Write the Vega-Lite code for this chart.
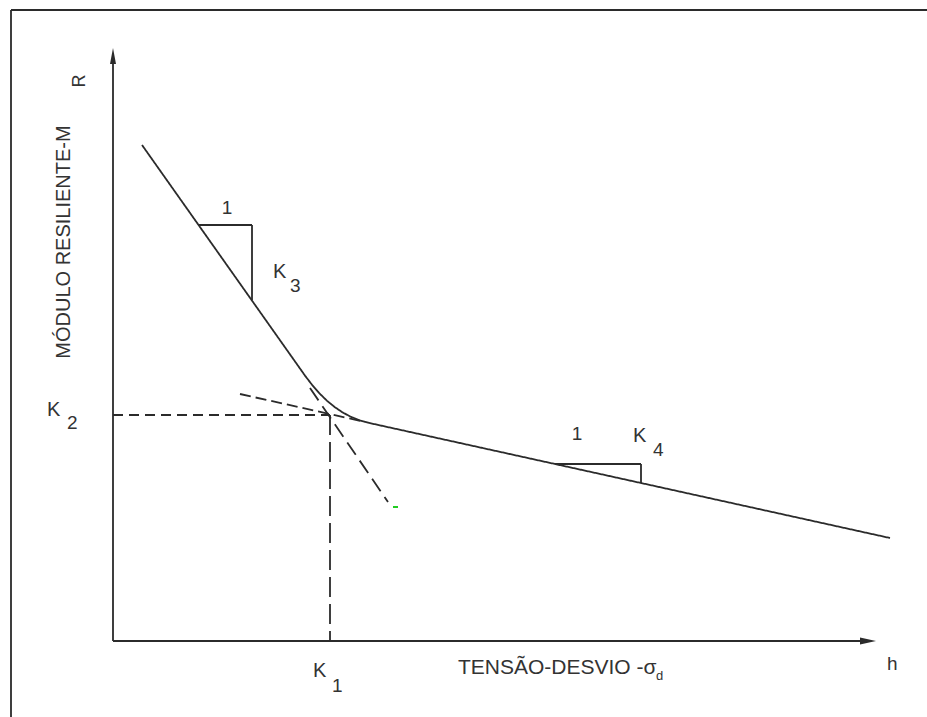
{
  "$schema": "https://vega.github.io/schema/vega-lite/v6.json",
  "width": 927,
  "height": 717,
  "padding": 0,
  "autosize": {"type": "none"},
  "background": "white",
  "config": {"view": {"stroke": null}, "text": {"font": "Liberation Sans", "color": "#333333"}},
  "datasets": {
    "lines": [
      {"s": "border", "o": 0, "st": "solid", "x": -102, "y": -80},
      {"s": "border", "o": 1, "st": "solid", "x": -102, "y": 631},
      {"s": "border", "o": 2, "st": "solid", "x": 820, "y": 631},
      {"s": "yaxis", "o": 0, "st": "solid", "x": 0, "y": 0},
      {"s": "yaxis", "o": 1, "st": "solid", "x": 0, "y": 585},
      {"s": "xaxis", "o": 0, "st": "solid", "x": 0, "y": 0},
      {"s": "xaxis", "o": 1, "st": "solid", "x": 755, "y": 0},
      {"s": "main", "o": 0, "st": "solid", "x": 29, "y": 496},
      {"s": "main", "o": 1, "st": "solid", "x": 192, "y": 265.4},
      {"s": "main", "o": 2, "st": "solid", "x": 199.1, "y": 256.1},
      {"s": "main", "o": 3, "st": "solid", "x": 206.3, "y": 247.8},
      {"s": "main", "o": 4, "st": "solid", "x": 213.8, "y": 240.4},
      {"s": "main", "o": 5, "st": "solid", "x": 221.6, "y": 234.0},
      {"s": "main", "o": 6, "st": "solid", "x": 229.6, "y": 228.6},
      {"s": "main", "o": 7, "st": "solid", "x": 237.8, "y": 224.2},
      {"s": "main", "o": 8, "st": "solid", "x": 246.3, "y": 220.8},
      {"s": "main", "o": 9, "st": "solid", "x": 255, "y": 218.3},
      {"s": "main", "o": 10, "st": "solid", "x": 777, "y": 103},
      {"s": "tri3", "o": 0, "st": "solid", "x": 86, "y": 416},
      {"s": "tri3", "o": 1, "st": "solid", "x": 139, "y": 416},
      {"s": "tri3", "o": 2, "st": "solid", "x": 139, "y": 341},
      {"s": "tri4", "o": 0, "st": "solid", "x": 442, "y": 177},
      {"s": "tri4", "o": 1, "st": "solid", "x": 528, "y": 177},
      {"s": "tri4", "o": 2, "st": "solid", "x": 528, "y": 158},
      {"s": "k2", "o": 0, "st": "dashK", "x": 0, "y": 226},
      {"s": "k2", "o": 1, "st": "dashK", "x": 217, "y": 226},
      {"s": "k1", "o": 0, "st": "dashV", "x": 217, "y": 226},
      {"s": "k1", "o": 1, "st": "dashV", "x": 217, "y": 0},
      {"s": "ext1", "o": 0, "st": "dashE1", "x": 197, "y": 253},
      {"s": "ext1", "o": 1, "st": "dashE1", "x": 275, "y": 139},
      {"s": "ext2", "o": 0, "st": "dashE2", "x": 127, "y": 247},
      {"s": "ext2", "o": 1, "st": "dashE2", "x": 252, "y": 219}
    ],
    "arrows": [
      {"dir": "up", "x": 0, "y": 585},
      {"dir": "right", "x": 755, "y": 0}
    ],
    "green": [{"x": 280, "x2": 285, "y": 134}],
    "labels": [
      {"t": "K", "x": -66, "y": 225},
      {"t": "K", "x": 200, "y": -36},
      {"t": "K", "x": 160, "y": 363},
      {"t": "K", "x": 520, "y": 199}
    ],
    "axlab": [{"t": "TENSÃO-DESVIO -σ", "x": 345, "y": -33}],
    "digits": [
      {"t": "2", "x": -46, "y": 212},
      {"t": "1", "x": 219, "y": -51},
      {"t": "3", "x": 177, "y": 349},
      {"t": "4", "x": 540, "y": 185},
      {"t": "h", "x": 774, "y": -29}
    ],
    "ones": [
      {"t": "1", "x": 114, "y": 427},
      {"t": "1", "x": 464, "y": 201}
    ],
    "subd": [{"t": "d", "x": 543, "y": -39}],
    "ylab": [{"t": "MÓDULO RESILIENTE-M", "x": -43, "y": 399}],
    "ysub": [{"t": "R", "x": -28, "y": 560}]
  },
  "layer": [
    {
      "data": {"name": "lines"},
      "mark": {"type": "line", "color": "#2b2b2b", "strokeWidth": 1.8, "interpolate": "linear"},
      "encoding": {
        "x": {"field": "x", "type": "quantitative", "scale": {"domain": [-113, 814], "nice": false, "zero": false}, "axis": null},
        "y": {"field": "y", "type": "quantitative", "scale": {"domain": [-76, 641], "nice": false, "zero": false}, "axis": null},
        "detail": {"field": "s"},
        "order": {"field": "o", "type": "quantitative"},
        "strokeDash": {"field": "st", "type": "nominal", "legend": null,
          "scale": {"domain": ["solid", "dashK", "dashV", "dashE1", "dashE2"], "range": [[1, 0], [10, 6], [20, 7], [15, 7], [11, 5]]}}
      }
    },
    {
      "data": {"name": "arrows"},
      "mark": {"type": "point", "filled": true, "opacity": 1, "size": 256, "color": "#2b2b2b"},
      "encoding": {
        "x": {"field": "x", "type": "quantitative"},
        "y": {"field": "y", "type": "quantitative"},
        "shape": {"field": "dir", "type": "nominal", "legend": null,
          "scale": {"domain": ["up", "right"], "range": ["M0,-1L0.375,1L-0.375,1Z", "M1,0L-1,-0.44L-1,0.44Z"]}}
      }
    },
    {
      "data": {"name": "green"},
      "mark": {"type": "rule", "color": "#22cc22", "strokeWidth": 2},
      "encoding": {
        "x": {"field": "x", "type": "quantitative"},
        "x2": {"field": "x2"},
        "y": {"field": "y", "type": "quantitative"}
      }
    },
    {
      "data": {"name": "labels"},
      "mark": {"type": "text", "fontSize": 20, "align": "left", "baseline": "alphabetic"},
      "encoding": {
        "x": {"field": "x", "type": "quantitative"},
        "y": {"field": "y", "type": "quantitative"},
        "text": {"field": "t"}
      }
    },
    {
      "data": {"name": "axlab"},
      "mark": {"type": "text", "fontSize": 21, "align": "left", "baseline": "alphabetic"},
      "encoding": {
        "x": {"field": "x", "type": "quantitative"},
        "y": {"field": "y", "type": "quantitative"},
        "text": {"field": "t"}
      }
    },
    {
      "data": {"name": "digits"},
      "mark": {"type": "text", "fontSize": 19, "align": "left", "baseline": "alphabetic"},
      "encoding": {
        "x": {"field": "x", "type": "quantitative"},
        "y": {"field": "y", "type": "quantitative"},
        "text": {"field": "t"}
      }
    },
    {
      "data": {"name": "ones"},
      "mark": {"type": "text", "fontSize": 19, "align": "center", "baseline": "alphabetic"},
      "encoding": {
        "x": {"field": "x", "type": "quantitative"},
        "y": {"field": "y", "type": "quantitative"},
        "text": {"field": "t"}
      }
    },
    {
      "data": {"name": "subd"},
      "mark": {"type": "text", "fontSize": 13, "align": "left", "baseline": "alphabetic"},
      "encoding": {
        "x": {"field": "x", "type": "quantitative"},
        "y": {"field": "y", "type": "quantitative"},
        "text": {"field": "t"}
      }
    },
    {
      "data": {"name": "ylab"},
      "mark": {"type": "text", "fontSize": 20, "angle": 270, "align": "center", "baseline": "alphabetic"},
      "encoding": {
        "x": {"field": "x", "type": "quantitative"},
        "y": {"field": "y", "type": "quantitative"},
        "text": {"field": "t"}
      }
    },
    {
      "data": {"name": "ysub"},
      "mark": {"type": "text", "fontSize": 18, "angle": 270, "align": "center", "baseline": "alphabetic"},
      "encoding": {
        "x": {"field": "x", "type": "quantitative"},
        "y": {"field": "y", "type": "quantitative"},
        "text": {"field": "t"}
      }
    }
  ]
}
